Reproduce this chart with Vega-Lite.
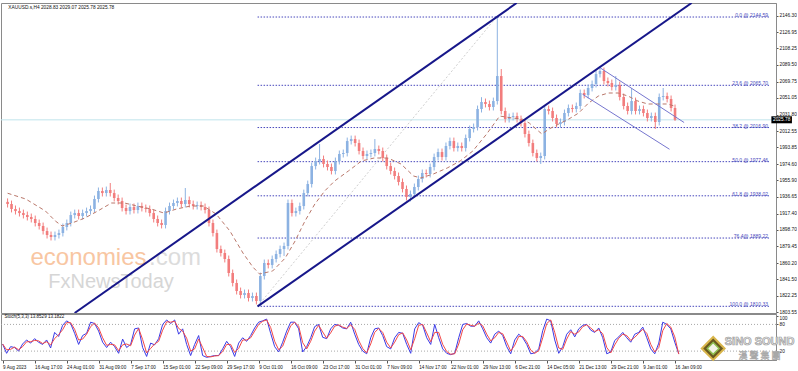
{
"$schema": "https://vega.github.io/schema/vega-lite/v6.json",
"padding": {"left": 0, "top": 2, "right": 0, "bottom": 0},
"background": "white",
"spacing": 1,
"bounds": "flush",
"config": {"view": {"stroke": "#8a8a8a", "strokeWidth": 1}, "font": "Liberation Sans", "axis": {"labelFont": "Liberation Sans", "grid": false}},
"datasets": {
"one": [{}],
"candles": [
{"i":0,"o":1931.0,"h":1935.0,"l":1924.5,"c":1928.5},
{"i":1,"o":1928.5,"h":1932.5,"l":1918.8,"c":1922.8},
{"i":2,"o":1922.8,"h":1926.8,"l":1916.4,"c":1920.4},
{"i":3,"o":1920.4,"h":1924.4,"l":1914.1,"c":1918.1},
{"i":4,"o":1918.1,"h":1922.1,"l":1911.8,"c":1915.8},
{"i":5,"o":1915.8,"h":1919.8,"l":1909.5,"c":1913.5},
{"i":6,"o":1913.5,"h":1917.5,"l":1907.2,"c":1911.2},
{"i":7,"o":1911.2,"h":1915.2,"l":1902.6,"c":1906.6},
{"i":8,"o":1906.6,"h":1910.6,"l":1899.1,"c":1903.1},
{"i":9,"o":1903.1,"h":1907.1,"l":1893.3,"c":1897.3},
{"i":10,"o":1897.3,"h":1901.3,"l":1888.7,"c":1892.7},
{"i":11,"o":1892.7,"h":1896.7,"l":1886.4,"c":1890.4},
{"i":12,"o":1890.4,"h":1896.7,"l":1886.4,"c":1892.7},
{"i":13,"o":1892.7,"h":1899.0,"l":1888.7,"c":1895.0},
{"i":14,"o":1895.0,"h":1906.0,"l":1891.0,"c":1902.0},
{"i":15,"o":1902.0,"h":1910.6,"l":1898.0,"c":1906.6},
{"i":16,"o":1906.6,"h":1919.8,"l":1902.6,"c":1915.8},
{"i":17,"o":1915.8,"h":1922.1,"l":1911.8,"c":1918.1},
{"i":18,"o":1918.1,"h":1922.1,"l":1910.7,"c":1914.7},
{"i":19,"o":1914.7,"h":1922.1,"l":1910.7,"c":1918.1},
{"i":20,"o":1918.1,"h":1924.4,"l":1914.1,"c":1920.4},
{"i":21,"o":1920.4,"h":1926.8,"l":1916.4,"c":1922.8},
{"i":22,"o":1922.8,"h":1938.3,"l":1918.8,"c":1934.3},
{"i":23,"o":1934.3,"h":1947.6,"l":1930.3,"c":1943.6},
{"i":24,"o":1943.6,"h":1947.6,"l":1937.2,"c":1941.2},
{"i":25,"o":1941.2,"h":1948.7,"l":1937.2,"c":1944.7},
{"i":26,"o":1944.7,"h":1952.8,"l":1937.2,"c":1941.2},
{"i":27,"o":1941.2,"h":1945.2,"l":1931.5,"c":1935.5},
{"i":28,"o":1935.5,"h":1939.5,"l":1928.0,"c":1932.0},
{"i":29,"o":1932.0,"h":1936.0,"l":1919.9,"c":1923.9},
{"i":30,"o":1923.9,"h":1927.9,"l":1916.4,"c":1920.4},
{"i":31,"o":1920.4,"h":1929.1,"l":1916.4,"c":1925.1},
{"i":32,"o":1925.1,"h":1929.1,"l":1917.6,"c":1921.6},
{"i":33,"o":1921.6,"h":1930.2,"l":1917.6,"c":1926.2},
{"i":34,"o":1926.2,"h":1930.2,"l":1919.9,"c":1923.9},
{"i":35,"o":1923.9,"h":1927.9,"l":1918.8,"c":1922.8},
{"i":36,"o":1922.8,"h":1926.8,"l":1914.1,"c":1918.1},
{"i":37,"o":1918.1,"h":1922.1,"l":1907.2,"c":1911.2},
{"i":38,"o":1911.2,"h":1915.2,"l":1902.6,"c":1906.6},
{"i":39,"o":1906.6,"h":1910.6,"l":1900.3,"c":1904.3},
{"i":40,"o":1904.3,"h":1924.4,"l":1900.3,"c":1920.4},
{"i":41,"o":1920.4,"h":1930.2,"l":1916.4,"c":1926.2},
{"i":42,"o":1926.2,"h":1933.7,"l":1922.2,"c":1929.7},
{"i":43,"o":1929.7,"h":1936.0,"l":1925.7,"c":1932.0},
{"i":44,"o":1932.0,"h":1936.0,"l":1924.5,"c":1928.5},
{"i":45,"o":1928.5,"h":1947.0,"l":1924.5,"c":1933.2},
{"i":46,"o":1933.2,"h":1937.2,"l":1924.5,"c":1928.5},
{"i":47,"o":1928.5,"h":1932.5,"l":1922.2,"c":1926.2},
{"i":48,"o":1926.2,"h":1931.4,"l":1922.2,"c":1927.4},
{"i":49,"o":1927.4,"h":1931.4,"l":1921.1,"c":1925.1},
{"i":50,"o":1925.1,"h":1929.1,"l":1917.6,"c":1921.6},
{"i":51,"o":1921.6,"h":1925.6,"l":1902.6,"c":1906.6},
{"i":52,"o":1906.6,"h":1910.6,"l":1891.0,"c":1895.0},
{"i":53,"o":1895.0,"h":1899.0,"l":1872.5,"c":1876.5},
{"i":54,"o":1876.5,"h":1880.5,"l":1867.9,"c":1871.9},
{"i":55,"o":1871.9,"h":1875.9,"l":1861.0,"c":1865.0},
{"i":56,"o":1865.0,"h":1869.0,"l":1844.8,"c":1848.8},
{"i":57,"o":1848.8,"h":1852.8,"l":1833.3,"c":1837.3},
{"i":58,"o":1837.3,"h":1841.3,"l":1824.0,"c":1828.0},
{"i":59,"o":1828.0,"h":1832.0,"l":1819.4,"c":1823.4},
{"i":60,"o":1823.4,"h":1829.7,"l":1819.4,"c":1825.7},
{"i":61,"o":1825.7,"h":1829.7,"l":1815.9,"c":1819.9},
{"i":62,"o":1819.9,"h":1826.2,"l":1815.9,"c":1822.2},
{"i":63,"o":1822.2,"h":1826.2,"l":1812.5,"c":1816.5},
{"i":64,"o":1816.5,"h":1849.3,"l":1810.33,"c":1845.3},
{"i":65,"o":1845.3,"h":1864.4,"l":1841.3,"c":1860.4},
{"i":66,"o":1860.4,"h":1864.4,"l":1854.1,"c":1858.1},
{"i":67,"o":1858.1,"h":1869.0,"l":1854.1,"c":1865.0},
{"i":68,"o":1865.0,"h":1874.8,"l":1861.0,"c":1870.8},
{"i":69,"o":1870.8,"h":1880.5,"l":1866.8,"c":1876.5},
{"i":70,"o":1876.5,"h":1884.0,"l":1868.5,"c":1880.0},
{"i":71,"o":1880.0,"h":1933.7,"l":1876.0,"c":1929.7},
{"i":72,"o":1929.7,"h":1933.7,"l":1914.1,"c":1918.1},
{"i":73,"o":1918.1,"h":1924.4,"l":1914.1,"c":1920.4},
{"i":74,"o":1920.4,"h":1930.2,"l":1916.4,"c":1926.2},
{"i":75,"o":1926.2,"h":1945.2,"l":1922.2,"c":1941.2},
{"i":76,"o":1941.2,"h":1955.6,"l":1937.2,"c":1951.6},
{"i":77,"o":1951.6,"h":1976.4,"l":1947.6,"c":1972.4},
{"i":78,"o":1972.4,"h":1982.2,"l":1968.4,"c":1978.2},
{"i":79,"o":1978.2,"h":1997.9,"l":1974.2,"c":1980.5},
{"i":80,"o":1980.5,"h":1984.5,"l":1970.8,"c":1974.8},
{"i":81,"o":1974.8,"h":1978.8,"l":1967.3,"c":1971.3},
{"i":82,"o":1971.3,"h":1975.3,"l":1962.7,"c":1966.7},
{"i":83,"o":1966.7,"h":1982.2,"l":1962.7,"c":1978.2},
{"i":84,"o":1978.2,"h":1990.3,"l":1974.2,"c":1986.3},
{"i":85,"o":1986.3,"h":1991.5,"l":1982.3,"c":1987.5},
{"i":86,"o":1987.5,"h":2005.3,"l":1983.5,"c":2001.3},
{"i":87,"o":2001.3,"h":2007.6,"l":1997.3,"c":2003.6},
{"i":88,"o":2003.6,"h":2007.6,"l":1995.0,"c":1999.0},
{"i":89,"o":1999.0,"h":2003.0,"l":1985.8,"c":1989.8},
{"i":90,"o":1989.8,"h":1993.8,"l":1980.0,"c":1984.0},
{"i":91,"o":1984.0,"h":1990.3,"l":1980.0,"c":1986.3},
{"i":92,"o":1986.3,"h":1991.5,"l":1982.3,"c":1987.5},
{"i":93,"o":1987.5,"h":2003.6,"l":1983.5,"c":1992.1},
{"i":94,"o":1992.1,"h":1996.1,"l":1985.8,"c":1989.8},
{"i":95,"o":1989.8,"h":1993.8,"l":1977.7,"c":1981.7},
{"i":96,"o":1981.7,"h":1985.7,"l":1968.4,"c":1972.4},
{"i":97,"o":1972.4,"h":1976.4,"l":1962.7,"c":1966.7},
{"i":98,"o":1966.7,"h":1970.7,"l":1956.9,"c":1960.9},
{"i":99,"o":1960.9,"h":1964.9,"l":1950.0,"c":1954.0},
{"i":100,"o":1954.0,"h":1958.0,"l":1941.9,"c":1945.9},
{"i":101,"o":1945.9,"h":1949.9,"l":1932.6,"c":1936.6},
{"i":102,"o":1936.6,"h":1944.1,"l":1931.5,"c":1940.1},
{"i":103,"o":1940.1,"h":1952.2,"l":1936.1,"c":1948.2},
{"i":104,"o":1948.2,"h":1961.4,"l":1944.2,"c":1957.4},
{"i":105,"o":1957.4,"h":1968.4,"l":1953.4,"c":1964.4},
{"i":106,"o":1964.4,"h":1968.4,"l":1959.2,"c":1963.2},
{"i":107,"o":1963.2,"h":1975.3,"l":1959.2,"c":1971.3},
{"i":108,"o":1971.3,"h":1986.8,"l":1967.3,"c":1982.8},
{"i":109,"o":1982.8,"h":1992.6,"l":1978.8,"c":1988.6},
{"i":110,"o":1988.6,"h":1992.6,"l":1978.8,"c":1982.8},
{"i":111,"o":1982.8,"h":1999.6,"l":1978.8,"c":1995.6},
{"i":112,"o":1995.6,"h":2005.3,"l":1991.6,"c":2001.3},
{"i":113,"o":2001.3,"h":2005.3,"l":1989.2,"c":1993.2},
{"i":114,"o":1993.2,"h":1999.6,"l":1989.2,"c":1995.6},
{"i":115,"o":1995.6,"h":1999.6,"l":1989.2,"c":1993.2},
{"i":116,"o":1993.2,"h":2008.8,"l":1989.2,"c":2004.8},
{"i":117,"o":2004.8,"h":2019.2,"l":2000.8,"c":2015.2},
{"i":118,"o":2015.2,"h":2021.5,"l":2011.2,"c":2017.5},
{"i":119,"o":2017.5,"h":2042.3,"l":2013.5,"c":2038.3},
{"i":120,"o":2038.3,"h":2052.0,"l":2034.3,"c":2046.4},
{"i":121,"o":2046.4,"h":2050.4,"l":2040.1,"c":2044.1},
{"i":122,"o":2044.1,"h":2048.1,"l":2036.6,"c":2040.6},
{"i":123,"o":2040.6,"h":2051.5,"l":2036.6,"c":2047.5},
{"i":124,"o":2047.5,"h":2144.59,"l":2043.5,"c":2076.4},
{"i":125,"o":2076.4,"h":2084.5,"l":2032.0,"c":2036.0},
{"i":126,"o":2036.0,"h":2040.0,"l":2022.7,"c":2026.7},
{"i":127,"o":2026.7,"h":2033.1,"l":2022.7,"c":2029.1},
{"i":128,"o":2029.1,"h":2034.2,"l":2025.1,"c":2030.2},
{"i":129,"o":2030.2,"h":2034.2,"l":2022.7,"c":2026.7},
{"i":130,"o":2026.7,"h":2030.7,"l":2018.1,"c":2022.1},
{"i":131,"o":2022.1,"h":2026.1,"l":2005.4,"c":2009.4},
{"i":132,"o":2009.4,"h":2013.4,"l":1995.0,"c":1999.0},
{"i":133,"o":1999.0,"h":2003.0,"l":1983.5,"c":1987.5},
{"i":134,"o":1987.5,"h":1991.5,"l":1977.7,"c":1981.7},
{"i":135,"o":1981.7,"h":1988.0,"l":1974.8,"c":1984.0},
{"i":136,"o":1984.0,"h":2042.3,"l":1980.0,"c":2038.3},
{"i":137,"o":2038.3,"h":2042.3,"l":2032.0,"c":2036.0},
{"i":138,"o":2036.0,"h":2040.0,"l":2023.9,"c":2027.9},
{"i":139,"o":2027.9,"h":2031.9,"l":2017.0,"c":2021.0},
{"i":140,"o":2021.0,"h":2027.3,"l":2017.0,"c":2023.3},
{"i":141,"o":2023.3,"h":2037.7,"l":2019.3,"c":2033.7},
{"i":142,"o":2033.7,"h":2043.5,"l":2029.7,"c":2039.5},
{"i":143,"o":2039.5,"h":2043.5,"l":2034.3,"c":2038.3},
{"i":144,"o":2038.3,"h":2045.8,"l":2034.3,"c":2041.8},
{"i":145,"o":2041.8,"h":2060.8,"l":2037.8,"c":2056.8},
{"i":146,"o":2056.8,"h":2060.8,"l":2050.5,"c":2054.5},
{"i":147,"o":2054.5,"h":2066.6,"l":2050.5,"c":2062.6},
{"i":148,"o":2062.6,"h":2071.2,"l":2058.6,"c":2067.2},
{"i":149,"o":2067.2,"h":2082.7,"l":2063.2,"c":2078.7},
{"i":150,"o":2078.7,"h":2088.0,"l":2074.7,"c":2082.2},
{"i":151,"o":2082.2,"h":2086.2,"l":2066.7,"c":2070.7},
{"i":152,"o":2070.7,"h":2074.7,"l":2064.3,"c":2068.3},
{"i":153,"o":2068.3,"h":2072.3,"l":2059.7,"c":2063.7},
{"i":154,"o":2063.7,"h":2076.4,"l":2059.7,"c":2066.0},
{"i":155,"o":2066.0,"h":2070.0,"l":2048.2,"c":2052.2},
{"i":156,"o":2052.2,"h":2056.2,"l":2037.8,"c":2041.8},
{"i":157,"o":2041.8,"h":2045.8,"l":2032.0,"c":2036.0},
{"i":158,"o":2036.0,"h":2062.6,"l":2032.0,"c":2047.5},
{"i":159,"o":2047.5,"h":2051.5,"l":2032.0,"c":2036.0},
{"i":160,"o":2036.0,"h":2042.3,"l":2032.0,"c":2038.3},
{"i":161,"o":2038.3,"h":2042.3,"l":2029.7,"c":2033.7},
{"i":162,"o":2033.7,"h":2037.7,"l":2023.9,"c":2027.9},
{"i":163,"o":2027.9,"h":2034.2,"l":2023.9,"c":2030.2},
{"i":164,"o":2030.2,"h":2034.2,"l":2015.2,"c":2023.3},
{"i":165,"o":2023.3,"h":2056.2,"l":2019.3,"c":2052.2},
{"i":166,"o":2052.2,"h":2062.6,"l":2048.2,"c":2053.3},
{"i":167,"o":2053.3,"h":2057.3,"l":2045.9,"c":2049.9},
{"i":168,"o":2049.9,"h":2053.9,"l":2035.5,"c":2039.5},
{"i":169,"o":2039.5,"h":2043.5,"l":2024.5,"c":2025.78}
],
"ma": [
{"i":0,"p":1941.0},{"i":4.6,"p":1934.3},{"i":9.6,"p":1920.4},{"i":12.1,"p":1908.9},{"i":13.8,"p":1903.1},{"i":16.3,"p":1906.6},{"i":19.6,"p":1912.4},{"i":22.8,"p":1920.4},{"i":26.3,"p":1929.7},{"i":29.6,"p":1929.7},{"i":32.8,"p":1926.2},{"i":36.3,"p":1922.8},{"i":39.6,"p":1918.1},{"i":42.8,"p":1922.8},{"i":46.3,"p":1926.2},{"i":49.6,"p":1926.2},{"i":52.8,"p":1917.0},{"i":56.3,"p":1897.3},{"i":59.6,"p":1871.9},{"i":62.1,"p":1855.7},{"i":63.8,"p":1847.7},{"i":67.1,"p":1851.1},{"i":70.3,"p":1866.1},{"i":72.8,"p":1885.8},{"i":75.3,"p":1908.9},{"i":77.8,"p":1928.5},{"i":80.3,"p":1943.6},{"i":82.8,"p":1955.1},{"i":86.3,"p":1966.7},{"i":89.6,"p":1978.2},{"i":92.8,"p":1981.7},{"i":96.3,"p":1981.7},{"i":99.6,"p":1974.8},{"i":102.8,"p":1960.9},{"i":104.6,"p":1958.6},{"i":107.8,"p":1963.2},{"i":111.3,"p":1970.1},{"i":114.6,"p":1978.2},{"i":117.8,"p":1989.8},{"i":121.3,"p":2009.4},{"i":124.6,"p":2030.2},{"i":127.8,"p":2027.9},{"i":130.3,"p":2026.7},{"i":132.1,"p":2022.1},{"i":133.8,"p":2015.2},{"i":135.3,"p":2009.4},{"i":137.1,"p":2015.2},{"i":139.6,"p":2021.0},{"i":142.1,"p":2026.7},{"i":144.6,"p":2033.7},{"i":147.1,"p":2045.2},{"i":149.6,"p":2053.3},{"i":152.1,"p":2056.8},{"i":154.6,"p":2056.8},{"i":157.1,"p":2053.3},{"i":159.6,"p":2047.5},{"i":162.1,"p":2044.1},{"i":164.6,"p":2044.1},{"i":167.1,"p":2044.1},{"i":168.8,"p":2041.8}
],
"fib": [
{"lab":"0.0 @ 2144.59","p":2144.59,"i0":63.3,"i1":192.8},
{"lab":"23.6 @ 2065.70","p":2065.70,"i0":63.3,"i1":192.8},
{"lab":"38.2 @ 2016.90","p":2016.90,"i0":63.3,"i1":192.8},
{"lab":"50.0 @ 1977.46","p":1977.46,"i0":63.3,"i1":192.8},
{"lab":"61.8 @ 1938.02","p":1938.02,"i0":63.3,"i1":192.8},
{"lab":"76.4@ 1889.22","p":1889.22,"i0":63.3,"i1":192.8},
{"lab":"100.0 @ 1810.33","p":1810.33,"i0":63.3,"i1":192.8}
],
"chan": [
{"id":"a","i":16.98,"p":1802.6},{"id":"a","i":128.9,"p":2160.8},
{"id":"b","i":63.3,"p":1810.33},{"id":"b","i":173.2,"p":2160.8}
],
"desc": [
{"id":"u","i":150.1,"p":2085.7},{"id":"u","i":171.3,"p":2022.7},
{"id":"l","i":145.6,"p":2055.3},{"id":"l","i":167.6,"p":1991.8}
],
"trend": [{"i":63.3,"p":1810.33},{"i":123.8,"p":2144.59}],
"stoch": [
{"i":0,"k":36,"d":36},{"i":1,"k":15,"d":23},{"i":2,"k":30,"d":24},{"i":3,"k":28,"d":29},{"i":4,"k":20,"d":23},{"i":5,"k":36,"d":30},{"i":6,"k":45,"d":41},{"i":7,"k":38,"d":41},{"i":8,"k":48,"d":44},{"i":9,"k":40,"d":43},
{"i":10,"k":35,"d":37},{"i":11,"k":45,"d":41},{"i":12,"k":27,"d":34},{"i":13,"k":62,"d":48},{"i":14,"k":53,"d":57},{"i":15,"k":78,"d":68},{"i":16,"k":88,"d":84},{"i":17,"k":82,"d":84},{"i":18,"k":60,"d":69},{"i":19,"k":35,"d":45},
{"i":20,"k":55,"d":47},{"i":21,"k":60,"d":58},{"i":22,"k":85,"d":75},{"i":23,"k":82,"d":83},{"i":24,"k":65,"d":72},{"i":25,"k":40,"d":50},{"i":26,"k":28,"d":33},{"i":27,"k":40,"d":35},{"i":28,"k":30,"d":34},{"i":29,"k":15,"d":21},
{"i":30,"k":47,"d":34},{"i":31,"k":28,"d":36},{"i":32,"k":35,"d":32},{"i":33,"k":70,"d":56},{"i":34,"k":72,"d":71},{"i":35,"k":28,"d":46},{"i":36,"k":8,"d":16},{"i":37,"k":38,"d":26},{"i":38,"k":34,"d":36},{"i":39,"k":48,"d":42},
{"i":40,"k":80,"d":67},{"i":41,"k":90,"d":86},{"i":42,"k":82,"d":85},{"i":43,"k":90,"d":87},{"i":44,"k":58,"d":71},{"i":45,"k":70,"d":65},{"i":46,"k":35,"d":49},{"i":47,"k":10,"d":20},{"i":48,"k":35,"d":25},{"i":49,"k":55,"d":47},
{"i":50,"k":10,"d":28},{"i":51,"k":6,"d":8},{"i":52,"k":8,"d":7},{"i":53,"k":10,"d":9},{"i":54,"k":10,"d":10},{"i":55,"k":25,"d":19},{"i":56,"k":42,"d":35},{"i":57,"k":30,"d":35},{"i":58,"k":8,"d":17},{"i":59,"k":38,"d":26},
{"i":60,"k":50,"d":45},{"i":61,"k":42,"d":45},{"i":62,"k":55,"d":50},{"i":63,"k":72,"d":65},{"i":64,"k":85,"d":80},{"i":65,"k":88,"d":87},{"i":66,"k":92,"d":90},{"i":67,"k":60,"d":73},{"i":68,"k":30,"d":42},{"i":69,"k":18,"d":23},
{"i":70,"k":40,"d":31},{"i":71,"k":65,"d":55},{"i":72,"k":85,"d":77},{"i":73,"k":85,"d":85},{"i":74,"k":70,"d":76},{"i":75,"k":18,"d":39},{"i":76,"k":30,"d":25},{"i":77,"k":50,"d":42},{"i":78,"k":75,"d":65},{"i":79,"k":80,"d":78},
{"i":80,"k":51,"d":63},{"i":81,"k":48,"d":49},{"i":82,"k":70,"d":61},{"i":83,"k":80,"d":76},{"i":84,"k":78,"d":79},{"i":85,"k":72,"d":74},{"i":86,"k":70,"d":71},{"i":87,"k":85,"d":79},{"i":88,"k":58,"d":69},{"i":89,"k":35,"d":44},
{"i":90,"k":20,"d":26},{"i":91,"k":14,"d":16},{"i":92,"k":50,"d":36},{"i":93,"k":70,"d":62},{"i":94,"k":72,"d":71},{"i":95,"k":55,"d":62},{"i":96,"k":30,"d":40},{"i":97,"k":25,"d":27},{"i":98,"k":50,"d":40},{"i":99,"k":62,"d":57},
{"i":100,"k":60,"d":61},{"i":101,"k":35,"d":45},{"i":102,"k":15,"d":23},{"i":103,"k":70,"d":48},{"i":104,"k":84,"d":78},{"i":105,"k":78,"d":80},{"i":106,"k":50,"d":61},{"i":107,"k":35,"d":41},{"i":108,"k":80,"d":62},{"i":109,"k":50,"d":62},
{"i":110,"k":25,"d":35},{"i":111,"k":15,"d":19},{"i":112,"k":12,"d":13},{"i":113,"k":15,"d":14},{"i":114,"k":50,"d":36},{"i":115,"k":80,"d":68},{"i":116,"k":82,"d":81},{"i":117,"k":76,"d":78},{"i":118,"k":76,"d":76},{"i":119,"k":88,"d":83},
{"i":120,"k":70,"d":77},{"i":121,"k":50,"d":58},{"i":122,"k":38,"d":43},{"i":123,"k":58,"d":50},{"i":124,"k":65,"d":62},{"i":125,"k":55,"d":59},{"i":126,"k":30,"d":40},{"i":127,"k":14,"d":20},{"i":128,"k":45,"d":33},{"i":129,"k":58,"d":53},
{"i":130,"k":50,"d":53},{"i":131,"k":35,"d":41},{"i":132,"k":14,"d":22},{"i":133,"k":16,"d":15},{"i":134,"k":25,"d":21},{"i":135,"k":66,"d":50},{"i":136,"k":92,"d":82},{"i":137,"k":88,"d":90},{"i":138,"k":45,"d":62},{"i":139,"k":15,"d":27},
{"i":140,"k":30,"d":24},{"i":141,"k":58,"d":47},{"i":142,"k":68,"d":64},{"i":143,"k":52,"d":58},{"i":144,"k":70,"d":63},{"i":145,"k":78,"d":75},{"i":146,"k":80,"d":79},{"i":147,"k":67,"d":72},{"i":148,"k":62,"d":64},{"i":149,"k":72,"d":68},
{"i":150,"k":50,"d":59},{"i":151,"k":14,"d":28},{"i":152,"k":18,"d":16},{"i":153,"k":44,"d":34},{"i":154,"k":52,"d":49},{"i":155,"k":62,"d":58},{"i":156,"k":50,"d":55},{"i":157,"k":40,"d":44},{"i":158,"k":58,"d":51},{"i":159,"k":62,"d":60},
{"i":160,"k":74,"d":69},{"i":161,"k":50,"d":60},{"i":162,"k":25,"d":35},{"i":163,"k":14,"d":18},{"i":164,"k":38,"d":28},{"i":165,"k":85,"d":66},{"i":166,"k":80,"d":82},{"i":167,"k":70,"d":74},{"i":168,"k":40,"d":52},{"i":169,"k":13.85,"d":13.18}
],
"levels": [{"v":80},{"v":20}]
},
"vconcat": [
{
"width": 775, "height": 310,
"layer": [
{"data": {"name":"one"},
 "mark": {"type":"text","text":"economies","align":"left","baseline":"middle","fontSize":24,"font":"Liberation Sans","color":"#f8c6a2"},
 "encoding": {"x":{"datum":5.8,"type":"quantitative","scale":{"domain":[-0.4,193.3],"nice":false,"zero":false},"axis":null},"y":{"datum":1866.0,"type":"quantitative","scale":{"domain":[1802.6,2160.8],"nice":false,"zero":false},"axis":{"orient":"right","values":[2146.3,2126.95,2108.25,2089.5,2069.75,2051.05,2031.8,2012.55,1993.85,1974.6,1955.9,1936.65,1917.4,1898.7,1879.45,1860.2,1841.5,1822.25,1803.55],"format":".2f","title":null,"grid":false,"labelFontSize":4.8,"labelColor":"#111","tickSize":2,"tickColor":"#555","domainColor":"#8a8a8a","labelPadding":1,"labelOverlap":false,"labelFlush":false,"labelBound":false}}}},
{"data": {"name":"one"},
 "mark": {"type":"text","text":".com","align":"left","baseline":"middle","fontSize":24,"font":"Liberation Sans","color":"#dcdcdc"},
 "encoding": {"x":{"datum":35.8,"type":"quantitative","scale":{"domain":[-0.4,193.3],"nice":false,"zero":false},"axis":null},"y":{"datum":1866.0,"type":"quantitative","scale":{"domain":[1802.6,2160.8],"nice":false,"zero":false},"axis":{"orient":"right","values":[2146.3,2126.95,2108.25,2089.5,2069.75,2051.05,2031.8,2012.55,1993.85,1974.6,1955.9,1936.65,1917.4,1898.7,1879.45,1860.2,1841.5,1822.25,1803.55],"format":".2f","title":null,"grid":false,"labelFontSize":4.8,"labelColor":"#111","tickSize":2,"tickColor":"#555","domainColor":"#8a8a8a","labelPadding":1,"labelOverlap":false,"labelFlush":false,"labelBound":false}}}},
{"data": {"name":"one"},
 "mark": {"type":"text","text":"FxNewsToday","align":"left","baseline":"middle","fontSize":20,"font":"Liberation Sans","color":"#d6d6d6"},
 "encoding": {"x":{"datum":10.3,"type":"quantitative","scale":{"domain":[-0.4,193.3],"nice":false,"zero":false},"axis":null},"y":{"datum":1838.3,"type":"quantitative","scale":{"domain":[1802.6,2160.8],"nice":false,"zero":false},"axis":{"orient":"right","values":[2146.3,2126.95,2108.25,2089.5,2069.75,2051.05,2031.8,2012.55,1993.85,1974.6,1955.9,1936.65,1917.4,1898.7,1879.45,1860.2,1841.5,1822.25,1803.55],"format":".2f","title":null,"grid":false,"labelFontSize":4.8,"labelColor":"#111","tickSize":2,"tickColor":"#555","domainColor":"#8a8a8a","labelPadding":1,"labelOverlap":false,"labelFlush":false,"labelBound":false}}}},
{"data": {"name":"one"},
 "mark": {"type":"rule","color":"#bfe4ec","strokeWidth":1},
 "encoding": {"y":{"datum":2025.78,"type":"quantitative","scale":{"domain":[1802.6,2160.8],"nice":false,"zero":false},"axis":{"orient":"right","values":[2146.3,2126.95,2108.25,2089.5,2069.75,2051.05,2031.8,2012.55,1993.85,1974.6,1955.9,1936.65,1917.4,1898.7,1879.45,1860.2,1841.5,1822.25,1803.55],"format":".2f","title":null,"grid":false,"labelFontSize":4.8,"labelColor":"#111","tickSize":2,"tickColor":"#555","domainColor":"#8a8a8a","labelPadding":1,"labelOverlap":false,"labelFlush":false,"labelBound":false}}}},
{"data": {"name":"fib"},
 "mark": {"type":"rule","color":"#4848bc","strokeWidth":1,"strokeDash":[1.5,1.5]},
 "encoding": {"x":{"field":"i0","type":"quantitative","scale":{"domain":[-0.4,193.3],"nice":false,"zero":false},"axis":null},"x2":{"field":"i1"},"y":{"field":"p","type":"quantitative","scale":{"domain":[1802.6,2160.8],"nice":false,"zero":false},"axis":{"orient":"right","values":[2146.3,2126.95,2108.25,2089.5,2069.75,2051.05,2031.8,2012.55,1993.85,1974.6,1955.9,1936.65,1917.4,1898.7,1879.45,1860.2,1841.5,1822.25,1803.55],"format":".2f","title":null,"grid":false,"labelFontSize":4.8,"labelColor":"#111","tickSize":2,"tickColor":"#555","domainColor":"#8a8a8a","labelPadding":1,"labelOverlap":false,"labelFlush":false,"labelBound":false}}}},
{"data": {"name":"fib"},
 "mark": {"type":"text","align":"right","baseline":"alphabetic","fontSize":5,"font":"Liberation Sans","color":"#4848bc","dx":-1,"dy":0},
 "encoding": {"x":{"field":"i1","type":"quantitative","scale":{"domain":[-0.4,193.3],"nice":false,"zero":false},"axis":null},"y":{"field":"p","type":"quantitative","scale":{"domain":[1802.6,2160.8],"nice":false,"zero":false},"axis":{"orient":"right","values":[2146.3,2126.95,2108.25,2089.5,2069.75,2051.05,2031.8,2012.55,1993.85,1974.6,1955.9,1936.65,1917.4,1898.7,1879.45,1860.2,1841.5,1822.25,1803.55],"format":".2f","title":null,"grid":false,"labelFontSize":4.8,"labelColor":"#111","tickSize":2,"tickColor":"#555","domainColor":"#8a8a8a","labelPadding":1,"labelOverlap":false,"labelFlush":false,"labelBound":false}},"text":{"field":"lab"}}},
{"data": {"name":"trend"},
 "mark": {"type":"line","color":"#cfcfcf","strokeWidth":1,"strokeDash":[2,2]},
 "encoding": {"x":{"field":"i","type":"quantitative","scale":{"domain":[-0.4,193.3],"nice":false,"zero":false},"axis":null},"y":{"field":"p","type":"quantitative","scale":{"domain":[1802.6,2160.8],"nice":false,"zero":false},"axis":{"orient":"right","values":[2146.3,2126.95,2108.25,2089.5,2069.75,2051.05,2031.8,2012.55,1993.85,1974.6,1955.9,1936.65,1917.4,1898.7,1879.45,1860.2,1841.5,1822.25,1803.55],"format":".2f","title":null,"grid":false,"labelFontSize":4.8,"labelColor":"#111","tickSize":2,"tickColor":"#555","domainColor":"#8a8a8a","labelPadding":1,"labelOverlap":false,"labelFlush":false,"labelBound":false}}}},
{"data": {"name":"candles"},
 "mark": {"type":"rule","strokeWidth":1},
 "encoding": {"x":{"field":"i","type":"quantitative","scale":{"domain":[-0.4,193.3],"nice":false,"zero":false},"axis":null},"y":{"field":"l","type":"quantitative","scale":{"domain":[1802.6,2160.8],"nice":false,"zero":false},"axis":{"orient":"right","values":[2146.3,2126.95,2108.25,2089.5,2069.75,2051.05,2031.8,2012.55,1993.85,1974.6,1955.9,1936.65,1917.4,1898.7,1879.45,1860.2,1841.5,1822.25,1803.55],"format":".2f","title":null,"grid":false,"labelFontSize":4.8,"labelColor":"#111","tickSize":2,"tickColor":"#555","domainColor":"#8a8a8a","labelPadding":1,"labelOverlap":false,"labelFlush":false,"labelBound":false}},"y2":{"field":"h"},
  "color":{"condition":{"test":"datum.c >= datum.o","value":"#8cb2e2"},"value":"#f27d7d"}}},
{"data": {"name":"candles"},
 "mark": {"type":"bar","size":2.6},
 "encoding": {"x":{"field":"i","type":"quantitative","scale":{"domain":[-0.4,193.3],"nice":false,"zero":false},"axis":null},
  "y":{"field":"o","type":"quantitative","scale":{"domain":[1802.6,2160.8],"nice":false,"zero":false},"axis":{"orient":"right","values":[2146.3,2126.95,2108.25,2089.5,2069.75,2051.05,2031.8,2012.55,1993.85,1974.6,1955.9,1936.65,1917.4,1898.7,1879.45,1860.2,1841.5,1822.25,1803.55],"format":".2f","title":null,"grid":false,"labelFontSize":4.8,"labelColor":"#111","tickSize":2,"tickColor":"#555","domainColor":"#8a8a8a","labelPadding":1,"labelOverlap":false,"labelFlush":false,"labelBound":false}},
  "y2":{"field":"c"},
  "color":{"condition":{"test":"datum.c >= datum.o","value":"#8cb2e2"},"value":"#f27d7d"}}},
{"data": {"name":"ma"},
 "mark": {"type":"line","color":"#b9776a","strokeWidth":1,"strokeDash":[4,3]},
 "encoding": {"x":{"field":"i","type":"quantitative","scale":{"domain":[-0.4,193.3],"nice":false,"zero":false},"axis":null},"y":{"field":"p","type":"quantitative","scale":{"domain":[1802.6,2160.8],"nice":false,"zero":false},"axis":{"orient":"right","values":[2146.3,2126.95,2108.25,2089.5,2069.75,2051.05,2031.8,2012.55,1993.85,1974.6,1955.9,1936.65,1917.4,1898.7,1879.45,1860.2,1841.5,1822.25,1803.55],"format":".2f","title":null,"grid":false,"labelFontSize":4.8,"labelColor":"#111","tickSize":2,"tickColor":"#555","domainColor":"#8a8a8a","labelPadding":1,"labelOverlap":false,"labelFlush":false,"labelBound":false}}}},
{"data": {"name":"desc"},
 "mark": {"type":"line","color":"#7676cf","strokeWidth":1},
 "encoding": {"x":{"field":"i","type":"quantitative","scale":{"domain":[-0.4,193.3],"nice":false,"zero":false},"axis":null},"y":{"field":"p","type":"quantitative","scale":{"domain":[1802.6,2160.8],"nice":false,"zero":false},"axis":{"orient":"right","values":[2146.3,2126.95,2108.25,2089.5,2069.75,2051.05,2031.8,2012.55,1993.85,1974.6,1955.9,1936.65,1917.4,1898.7,1879.45,1860.2,1841.5,1822.25,1803.55],"format":".2f","title":null,"grid":false,"labelFontSize":4.8,"labelColor":"#111","tickSize":2,"tickColor":"#555","domainColor":"#8a8a8a","labelPadding":1,"labelOverlap":false,"labelFlush":false,"labelBound":false}},"detail":{"field":"id"}}},
{"data": {"name":"chan"},
 "mark": {"type":"line","color":"#17178a","strokeWidth":2,"clip":true},
 "encoding": {"x":{"field":"i","type":"quantitative","scale":{"domain":[-0.4,193.3],"nice":false,"zero":false},"axis":null},"y":{"field":"p","type":"quantitative","scale":{"domain":[1802.6,2160.8],"nice":false,"zero":false},"axis":{"orient":"right","values":[2146.3,2126.95,2108.25,2089.5,2069.75,2051.05,2031.8,2012.55,1993.85,1974.6,1955.9,1936.65,1917.4,1898.7,1879.45,1860.2,1841.5,1822.25,1803.55],"format":".2f","title":null,"grid":false,"labelFontSize":4.8,"labelColor":"#111","tickSize":2,"tickColor":"#555","domainColor":"#8a8a8a","labelPadding":1,"labelOverlap":false,"labelFlush":false,"labelBound":false}},"detail":{"field":"id"}}},
{"data": {"name":"one"},
 "mark": {"type":"rect","color":"#000000"},
 "encoding": {"x":{"datum":193.4,"type":"quantitative","scale":{"domain":[-0.4,193.3],"nice":false,"zero":false},"axis":null},"x2":{"datum":198.6},"y":{"datum":2029.9,"type":"quantitative","scale":{"domain":[1802.6,2160.8],"nice":false,"zero":false},"axis":{"orient":"right","values":[2146.3,2126.95,2108.25,2089.5,2069.75,2051.05,2031.8,2012.55,1993.85,1974.6,1955.9,1936.65,1917.4,1898.7,1879.45,1860.2,1841.5,1822.25,1803.55],"format":".2f","title":null,"grid":false,"labelFontSize":4.8,"labelColor":"#111","tickSize":2,"tickColor":"#555","domainColor":"#8a8a8a","labelPadding":1,"labelOverlap":false,"labelFlush":false,"labelBound":false}},"y2":{"datum":2021.8}}},
{"data": {"name":"one"},
 "mark": {"type":"text","text":"2025.78","align":"center","baseline":"middle","fontSize":4.8,"font":"Liberation Sans","color":"#ffffff"},
 "encoding": {"x":{"datum":196.0,"type":"quantitative","scale":{"domain":[-0.4,193.3],"nice":false,"zero":false},"axis":null},"y":{"datum":2025.78,"type":"quantitative","scale":{"domain":[1802.6,2160.8],"nice":false,"zero":false},"axis":{"orient":"right","values":[2146.3,2126.95,2108.25,2089.5,2069.75,2051.05,2031.8,2012.55,1993.85,1974.6,1955.9,1936.65,1917.4,1898.7,1879.45,1860.2,1841.5,1822.25,1803.55],"format":".2f","title":null,"grid":false,"labelFontSize":4.8,"labelColor":"#111","tickSize":2,"tickColor":"#555","domainColor":"#8a8a8a","labelPadding":1,"labelOverlap":false,"labelFlush":false,"labelBound":false}}}},
{"data": {"name":"one"},
 "mark": {"type":"text","text":"XAUUSD.s,H4  2028.83 2029.07 2025.78 2025.78","align":"left","baseline":"middle","fontSize":4.8,"font":"Liberation Sans","color":"#111"},
 "encoding": {"x":{"datum":0.2,"type":"quantitative","scale":{"domain":[-0.4,193.3],"nice":false,"zero":false},"axis":null},"y":{"datum":2155.0,"type":"quantitative","scale":{"domain":[1802.6,2160.8],"nice":false,"zero":false},"axis":{"orient":"right","values":[2146.3,2126.95,2108.25,2089.5,2069.75,2051.05,2031.8,2012.55,1993.85,1974.6,1955.9,1936.65,1917.4,1898.7,1879.45,1860.2,1841.5,1822.25,1803.55],"format":".2f","title":null,"grid":false,"labelFontSize":4.8,"labelColor":"#111","tickSize":2,"tickColor":"#555","domainColor":"#8a8a8a","labelPadding":1,"labelOverlap":false,"labelFlush":false,"labelBound":false}}}}
]
},
{
"width": 775, "height": 46,
"layer": [
{"data": {"name":"levels"},
 "mark": {"type":"rule","color":"#a8a8a8","strokeWidth":1,"strokeDash":[1,2]},
 "encoding": {"y":{"field":"v","type":"quantitative","scale":{"domain":[0,103.4],"nice":false,"zero":false},"axis":{"orient":"right","values":[100,80,20],"title":null,"grid":false,"labelFontSize":4.8,"labelColor":"#111","tickSize":2,"tickColor":"#555","domainColor":"#8a8a8a","labelPadding":1,"labelOverlap":false,"labelFlush":false,"labelBaseline":{"condition":{"test":"datum.value >= 100","value":"top"},"value":"middle"}}}}},
{"data": {"name":"stoch"},
 "mark": {"type":"line","color":"#3a3ae6","strokeWidth":1},
 "encoding": {"x":{"field":"i","type":"quantitative","scale":{"domain":[-0.4,193.3],"nice":false,"zero":false},"axis":{"orient":"bottom","values":[0,8,16,24,32,40,48,56,64,72,80,88,96,104,112,120,128,136,144,152,160,168],"labelExpr":"['9 Aug 2023','16 Aug 17:00','24 Aug 01:00','31 Aug 09:00','7 Sep 17:00','15 Sep 01:00','22 Sep 09:00','29 Sep 17:00','9 Oct 01:00','16 Oct 09:00','23 Oct 17:00','31 Oct 01:00','7 Nov 09:00','14 Nov 17:00','22 Nov 01:00','29 Nov 13:00','6 Dec 21:00','14 Dec 05:00','21 Dec 13:00','29 Dec 21:00','9 Jan 01:00','16 Jan 09:00'][round(datum.value/8)]","labelAlign":"left","labelFontSize":4.6,"labelColor":"#111","tickSize":3,"tickColor":"#555","domainColor":"#8a8a8a","labelPadding":1,"labelOverlap":false,"labelFlush":false,"labelBound":false,"title":null,"grid":false}},
  "y":{"field":"k","type":"quantitative","scale":{"domain":[0,103.4],"nice":false,"zero":false},"axis":{"orient":"right","values":[100,80,20],"title":null,"grid":false,"labelFontSize":4.8,"labelColor":"#111","tickSize":2,"tickColor":"#555","domainColor":"#8a8a8a","labelPadding":1,"labelOverlap":false,"labelFlush":false,"labelBaseline":{"condition":{"test":"datum.value >= 100","value":"top"},"value":"middle"}}}}},
{"data": {"name":"stoch"},
 "mark": {"type":"line","color":"#f24848","strokeWidth":1},
 "encoding": {"x":{"field":"i","type":"quantitative","scale":{"domain":[-0.4,193.3],"nice":false,"zero":false},"axis":{"orient":"bottom","values":[0,8,16,24,32,40,48,56,64,72,80,88,96,104,112,120,128,136,144,152,160,168],"labelExpr":"['9 Aug 2023','16 Aug 17:00','24 Aug 01:00','31 Aug 09:00','7 Sep 17:00','15 Sep 01:00','22 Sep 09:00','29 Sep 17:00','9 Oct 01:00','16 Oct 09:00','23 Oct 17:00','31 Oct 01:00','7 Nov 09:00','14 Nov 17:00','22 Nov 01:00','29 Nov 13:00','6 Dec 21:00','14 Dec 05:00','21 Dec 13:00','29 Dec 21:00','9 Jan 01:00','16 Jan 09:00'][round(datum.value/8)]","labelAlign":"left","labelFontSize":4.6,"labelColor":"#111","tickSize":3,"tickColor":"#555","domainColor":"#8a8a8a","labelPadding":1,"labelOverlap":false,"labelFlush":false,"labelBound":false,"title":null,"grid":false}},"y":{"field":"d","type":"quantitative","scale":{"domain":[0,103.4],"nice":false,"zero":false},"axis":{"orient":"right","values":[100,80,20],"title":null,"grid":false,"labelFontSize":4.8,"labelColor":"#111","tickSize":2,"tickColor":"#555","domainColor":"#8a8a8a","labelPadding":1,"labelOverlap":false,"labelFlush":false,"labelBaseline":{"condition":{"test":"datum.value >= 100","value":"top"},"value":"middle"}}}}},
{"data": {"name":"one"},
 "mark": {"type":"text","text":"Stoch(5,3,3) 13.8529 13.1822","align":"left","baseline":"middle","fontSize":4.5,"font":"Liberation Sans","color":"#111"},
 "encoding": {"x":{"datum":0.5,"type":"quantitative","scale":{"domain":[-0.4,193.3],"nice":false,"zero":false},"axis":{"orient":"bottom","values":[0,8,16,24,32,40,48,56,64,72,80,88,96,104,112,120,128,136,144,152,160,168],"labelExpr":"['9 Aug 2023','16 Aug 17:00','24 Aug 01:00','31 Aug 09:00','7 Sep 17:00','15 Sep 01:00','22 Sep 09:00','29 Sep 17:00','9 Oct 01:00','16 Oct 09:00','23 Oct 17:00','31 Oct 01:00','7 Nov 09:00','14 Nov 17:00','22 Nov 01:00','29 Nov 13:00','6 Dec 21:00','14 Dec 05:00','21 Dec 13:00','29 Dec 21:00','9 Jan 01:00','16 Jan 09:00'][round(datum.value/8)]","labelAlign":"left","labelFontSize":4.6,"labelColor":"#111","tickSize":3,"tickColor":"#555","domainColor":"#8a8a8a","labelPadding":1,"labelOverlap":false,"labelFlush":false,"labelBound":false,"title":null,"grid":false}},"y":{"datum":95.7,"type":"quantitative","scale":{"domain":[0,103.4],"nice":false,"zero":false},"axis":{"orient":"right","values":[100,80,20],"title":null,"grid":false,"labelFontSize":4.8,"labelColor":"#111","tickSize":2,"tickColor":"#555","domainColor":"#8a8a8a","labelPadding":1,"labelOverlap":false,"labelFlush":false,"labelBaseline":{"condition":{"test":"datum.value >= 100","value":"top"},"value":"middle"}}}}},
{"data": {"name":"one"},
 "mark": {"type":"point","shape":"diamond","filled":true,"size":520,"color":"#6a5a20","stroke":"#d9b64c","strokeWidth":2,"opacity":1},
 "encoding": {"x":{"datum":177.6,"type":"quantitative","scale":{"domain":[-0.4,193.3],"nice":false,"zero":false},"axis":{"orient":"bottom","values":[0,8,16,24,32,40,48,56,64,72,80,88,96,104,112,120,128,136,144,152,160,168],"labelExpr":"['9 Aug 2023','16 Aug 17:00','24 Aug 01:00','31 Aug 09:00','7 Sep 17:00','15 Sep 01:00','22 Sep 09:00','29 Sep 17:00','9 Oct 01:00','16 Oct 09:00','23 Oct 17:00','31 Oct 01:00','7 Nov 09:00','14 Nov 17:00','22 Nov 01:00','29 Nov 13:00','6 Dec 21:00','14 Dec 05:00','21 Dec 13:00','29 Dec 21:00','9 Jan 01:00','16 Jan 09:00'][round(datum.value/8)]","labelAlign":"left","labelFontSize":4.6,"labelColor":"#111","tickSize":3,"tickColor":"#555","domainColor":"#8a8a8a","labelPadding":1,"labelOverlap":false,"labelFlush":false,"labelBound":false,"title":null,"grid":false}},"y":{"datum":26,"type":"quantitative","scale":{"domain":[0,103.4],"nice":false,"zero":false},"axis":{"orient":"right","values":[100,80,20],"title":null,"grid":false,"labelFontSize":4.8,"labelColor":"#111","tickSize":2,"tickColor":"#555","domainColor":"#8a8a8a","labelPadding":1,"labelOverlap":false,"labelFlush":false,"labelBaseline":{"condition":{"test":"datum.value >= 100","value":"top"},"value":"middle"}}}}},
{"data": {"name":"one"},
 "mark": {"type":"point","shape":"diamond","filled":true,"size":140,"color":"#f4f4e8","stroke":"#8fbf50","strokeWidth":1.5,"opacity":1},
 "encoding": {"x":{"datum":177.6,"type":"quantitative","scale":{"domain":[-0.4,193.3],"nice":false,"zero":false},"axis":{"orient":"bottom","values":[0,8,16,24,32,40,48,56,64,72,80,88,96,104,112,120,128,136,144,152,160,168],"labelExpr":"['9 Aug 2023','16 Aug 17:00','24 Aug 01:00','31 Aug 09:00','7 Sep 17:00','15 Sep 01:00','22 Sep 09:00','29 Sep 17:00','9 Oct 01:00','16 Oct 09:00','23 Oct 17:00','31 Oct 01:00','7 Nov 09:00','14 Nov 17:00','22 Nov 01:00','29 Nov 13:00','6 Dec 21:00','14 Dec 05:00','21 Dec 13:00','29 Dec 21:00','9 Jan 01:00','16 Jan 09:00'][round(datum.value/8)]","labelAlign":"left","labelFontSize":4.6,"labelColor":"#111","tickSize":3,"tickColor":"#555","domainColor":"#8a8a8a","labelPadding":1,"labelOverlap":false,"labelFlush":false,"labelBound":false,"title":null,"grid":false}},"y":{"datum":26,"type":"quantitative","scale":{"domain":[0,103.4],"nice":false,"zero":false},"axis":{"orient":"right","values":[100,80,20],"title":null,"grid":false,"labelFontSize":4.8,"labelColor":"#111","tickSize":2,"tickColor":"#555","domainColor":"#8a8a8a","labelPadding":1,"labelOverlap":false,"labelFlush":false,"labelBaseline":{"condition":{"test":"datum.value >= 100","value":"top"},"value":"middle"}}}}},
{"data": {"name":"one"},
 "mark": {"type":"text","text":"SiNO SOUND","align":"center","baseline":"middle","fontSize":11,"fontWeight":"bold","font":"Liberation Sans","color":"#f0f0f0","stroke":"#9a9a9a","strokeWidth":0.7},
 "encoding": {"x":{"datum":189.2,"type":"quantitative","scale":{"domain":[-0.4,193.3],"nice":false,"zero":false},"axis":{"orient":"bottom","values":[0,8,16,24,32,40,48,56,64,72,80,88,96,104,112,120,128,136,144,152,160,168],"labelExpr":"['9 Aug 2023','16 Aug 17:00','24 Aug 01:00','31 Aug 09:00','7 Sep 17:00','15 Sep 01:00','22 Sep 09:00','29 Sep 17:00','9 Oct 01:00','16 Oct 09:00','23 Oct 17:00','31 Oct 01:00','7 Nov 09:00','14 Nov 17:00','22 Nov 01:00','29 Nov 13:00','6 Dec 21:00','14 Dec 05:00','21 Dec 13:00','29 Dec 21:00','9 Jan 01:00','16 Jan 09:00'][round(datum.value/8)]","labelAlign":"left","labelFontSize":4.6,"labelColor":"#111","tickSize":3,"tickColor":"#555","domainColor":"#8a8a8a","labelPadding":1,"labelOverlap":false,"labelFlush":false,"labelBound":false,"title":null,"grid":false}},"y":{"datum":40,"type":"quantitative","scale":{"domain":[0,103.4],"nice":false,"zero":false},"axis":{"orient":"right","values":[100,80,20],"title":null,"grid":false,"labelFontSize":4.8,"labelColor":"#111","tickSize":2,"tickColor":"#555","domainColor":"#8a8a8a","labelPadding":1,"labelOverlap":false,"labelFlush":false,"labelBaseline":{"condition":{"test":"datum.value >= 100","value":"top"},"value":"middle"}}}}},
{"data": {"name":"one"},
 "mark": {"type":"text","text":"漢 聲 集 團","align":"center","baseline":"middle","fontSize":9,"font":"Noto Sans CJK TC","color":"#e6e6e6","stroke":"#a8a8a8","strokeWidth":0.5},
 "encoding": {"x":{"datum":189.2,"type":"quantitative","scale":{"domain":[-0.4,193.3],"nice":false,"zero":false},"axis":{"orient":"bottom","values":[0,8,16,24,32,40,48,56,64,72,80,88,96,104,112,120,128,136,144,152,160,168],"labelExpr":"['9 Aug 2023','16 Aug 17:00','24 Aug 01:00','31 Aug 09:00','7 Sep 17:00','15 Sep 01:00','22 Sep 09:00','29 Sep 17:00','9 Oct 01:00','16 Oct 09:00','23 Oct 17:00','31 Oct 01:00','7 Nov 09:00','14 Nov 17:00','22 Nov 01:00','29 Nov 13:00','6 Dec 21:00','14 Dec 05:00','21 Dec 13:00','29 Dec 21:00','9 Jan 01:00','16 Jan 09:00'][round(datum.value/8)]","labelAlign":"left","labelFontSize":4.6,"labelColor":"#111","tickSize":3,"tickColor":"#555","domainColor":"#8a8a8a","labelPadding":1,"labelOverlap":false,"labelFlush":false,"labelBound":false,"title":null,"grid":false}},"y":{"datum":8,"type":"quantitative","scale":{"domain":[0,103.4],"nice":false,"zero":false},"axis":{"orient":"right","values":[100,80,20],"title":null,"grid":false,"labelFontSize":4.8,"labelColor":"#111","tickSize":2,"tickColor":"#555","domainColor":"#8a8a8a","labelPadding":1,"labelOverlap":false,"labelFlush":false,"labelBaseline":{"condition":{"test":"datum.value >= 100","value":"top"},"value":"middle"}}}}}
]
}
]
}
